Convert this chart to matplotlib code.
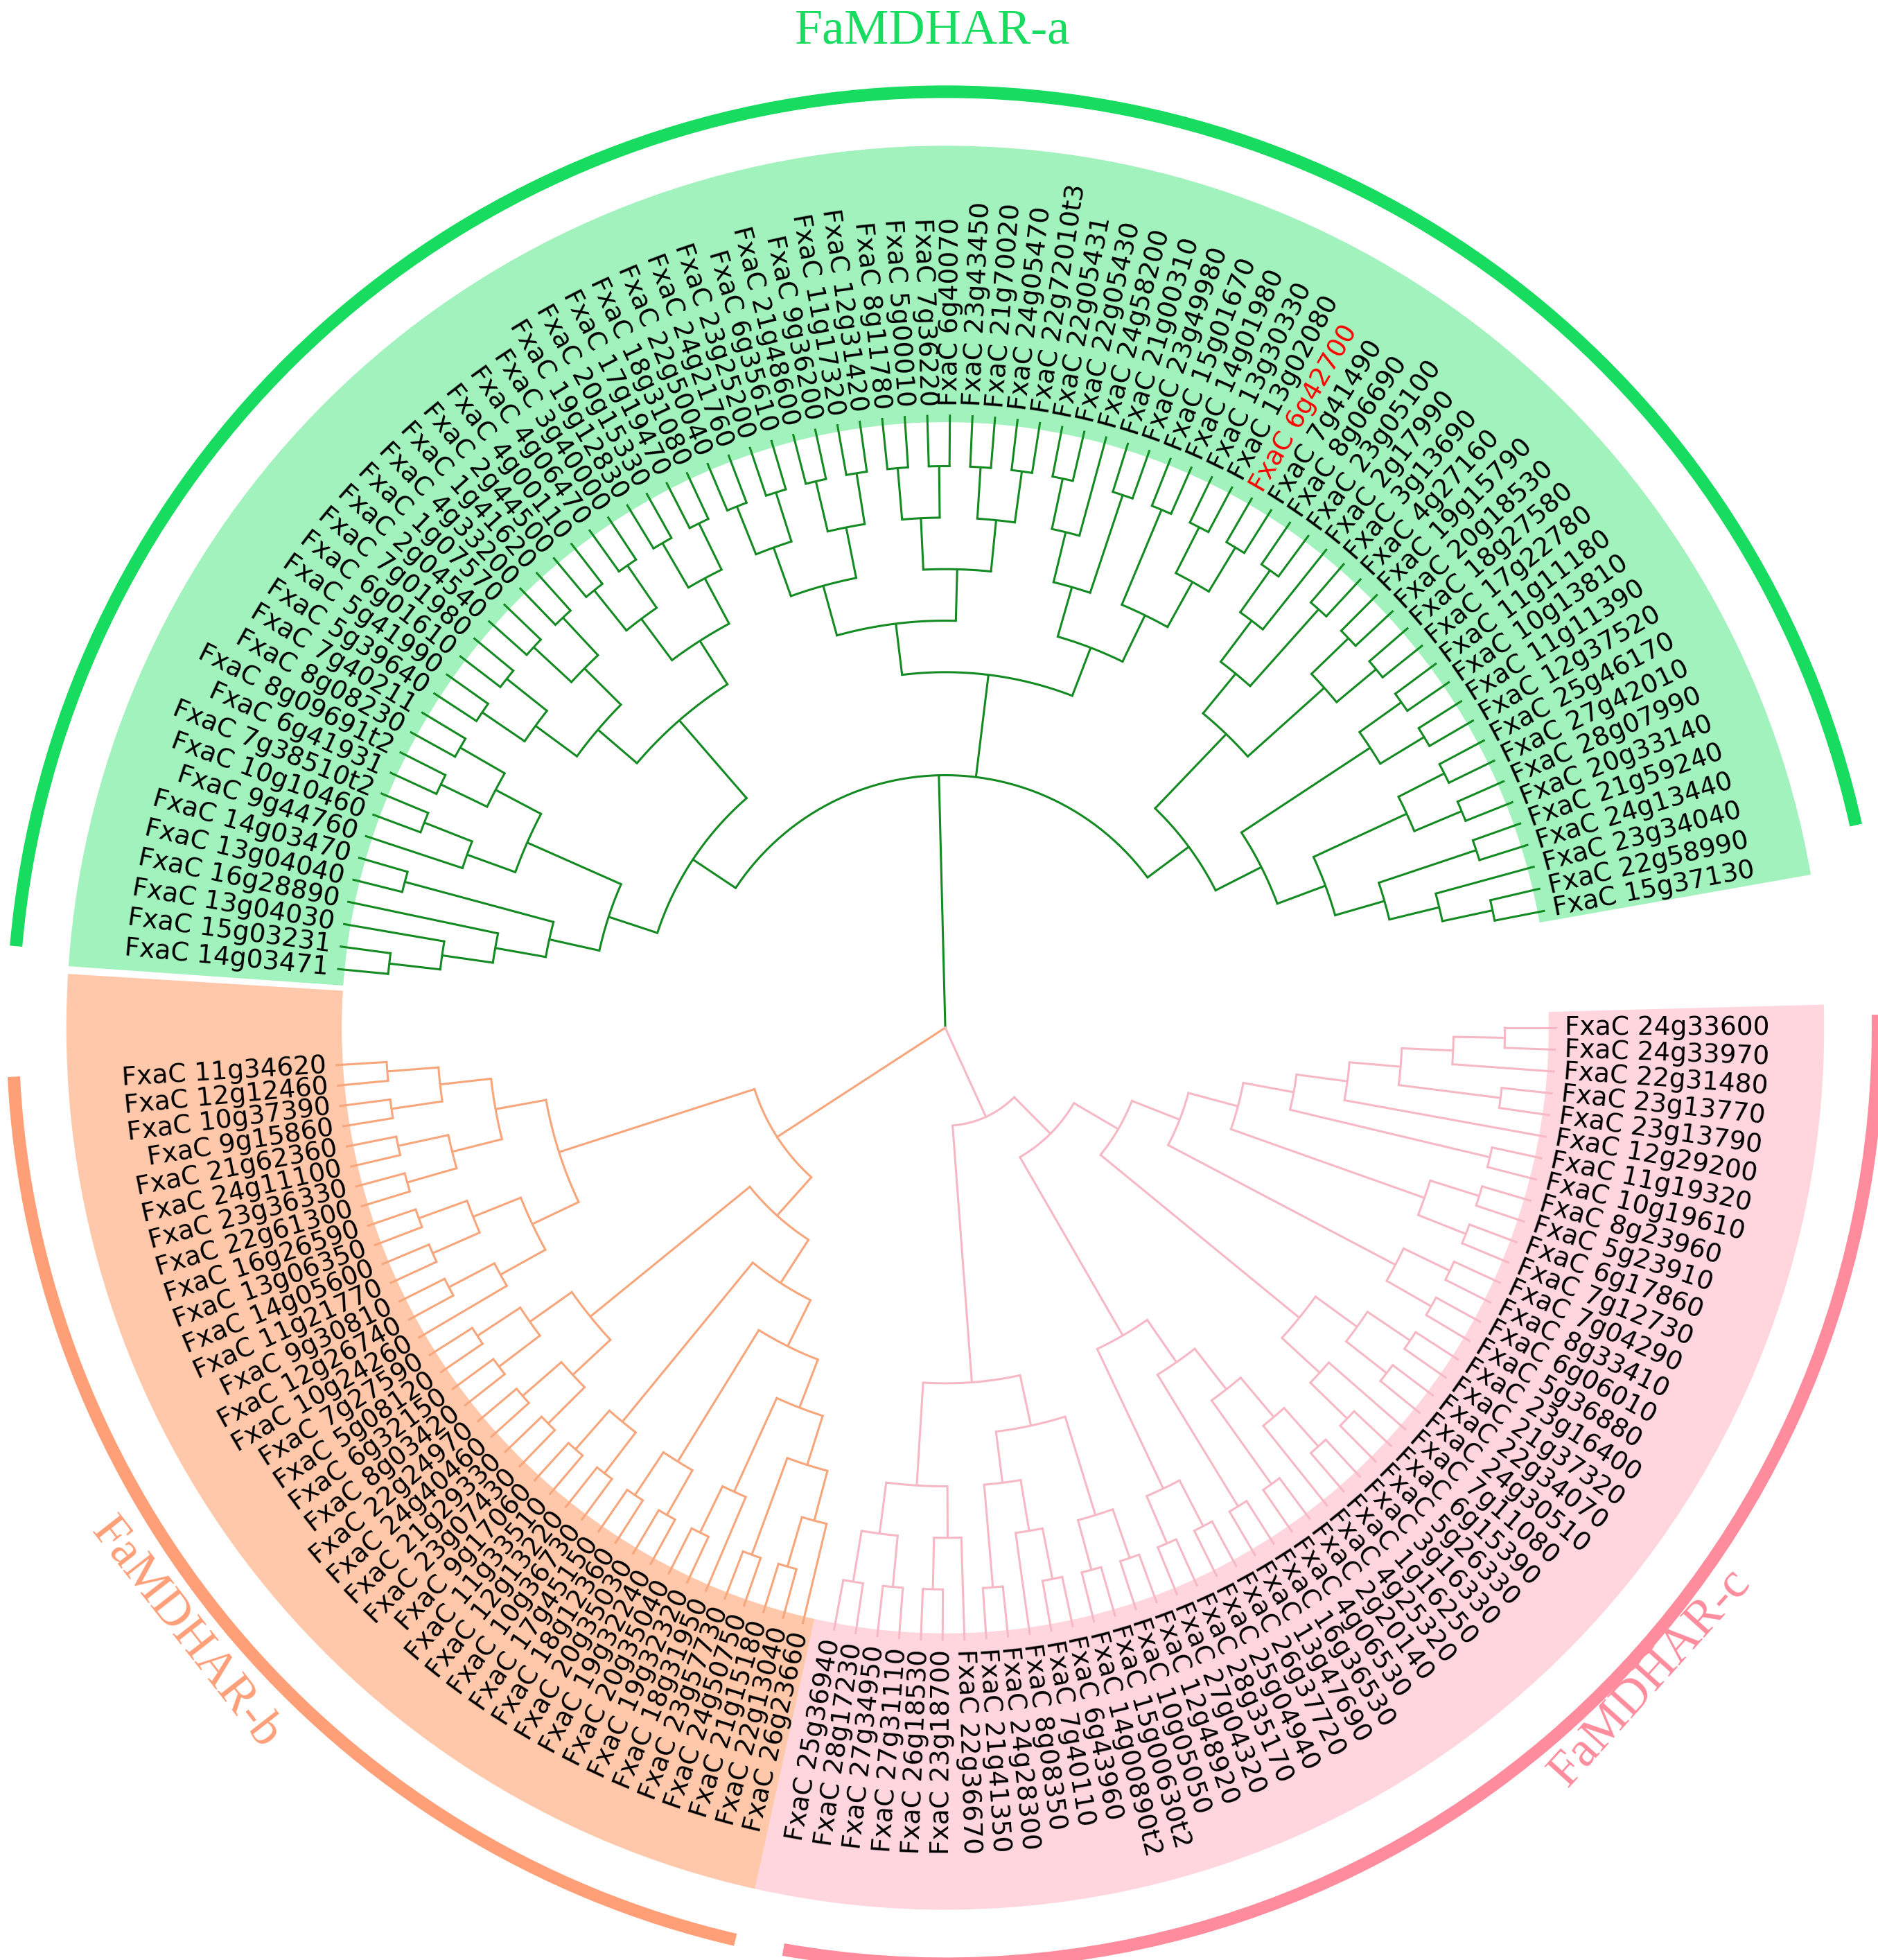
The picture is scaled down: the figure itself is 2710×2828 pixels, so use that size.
import numpy as np
import matplotlib.pyplot as plt
from matplotlib.patches import Wedge, Arc

# tree topology per clade as nested tuples (leaves in counter-clockwise order)
clade_a = (
    (
        ((((('15g37130', '22g58990'), '23g34040'), ('24g13440', '21g59240')),
          (('20g33140', '28g07990'), ('27g42010', '25g46170'))),
         (('12g37520', '11g11390'), ('10g13810', '11g11180'))),
        ((('17g22780', '18g27580'), ('20g18530', '19g15790')),
         (('4g27160', '3g13690'), ('2g17990', ('23g05100', '8g06690')))),
    ),
    (
        (((('7g41490', '6g42700'), ('13g02080', '13g30330')), ('14g01980', '15g01670')),
         (('23g49980', '21g00310'), ('24g58200', ('22g05430', '22g05431')))),
        (((('22g72010t3', '24g05470'), ('21g70020', '23g43450')),
          (('6g40070', '7g36220'), ('5g00010', '8g11780'))),
         ((('12g31420', '11g17320'), ('9g36200', '21g48600')),
          (('6g35610', '23g25200'), ('24g21760', '22g50040')))),
    ),
    (
        (((('18g31080', '17g19470'), ('20g15330', '19g12830')),
          (('3g40000', '4g06470'), ('4g00110', '2g44500'))),
         ((('1g41620', '4g33200'), ('1g07570', '2g04540')),
          (('7g01980', '6g01610'), ('5g41990', '5g39640')))),
        (((('7g40211', '8g08230'), ('8g09691t2', '6g41931')), (('7g38510t2', '10g10460'), '9g44760')),
         (('14g03470', '13g04040'), ('16g28890', ('13g04030', ('15g03231', '14g03471'))))),
    ),
)
clade_b = (
    (
        ((('11g34620', '12g12460'), ('10g37390', '9g15860')),
         (('21g62360', '24g11100'), ('23g36330', '22g61300'))),
        ((('16g26590', '13g06350'), ('14g05600', '11g21770')),
         (('9g30810', '12g26740'), '10g24260')),
    ),
    (
        ((('7g27590', '5g08120'), ('6g32150', '8g03420')),
         (('22g24970', '24g40460'), ('21g29330', '23g07430'))),
        ((('9g17060', '11g33510'), ('12g13220', '10g36730')),
         ((('17g45150', '18g12360'), ('20g35030', '19g32240')),
          ((('20g35040', '19g32320'), '18g31950'),
           (('23g57730', '24g50750'), (('21g15180', '22g13040'), '26g23660'))))),
    ),
)
clade_c = (
    (
        ((('25g36940', '28g17230'), ('27g34950', '27g31110')),
         (('26g18530', '23g18700'), '22g36670')),
        ((('21g41350', '24g28300'), ('8g08350', ('7g40110', '6g43960'))),
         (('14g00890t2', '15g00630t2'), ('10g05050', '12g48920'))),
    ),
    (
        ((('27g04320', '28g35170'), ('25g04940', '26g37720')),
         (('13g47690', '16g36530'), (('4g06530', '2g20140'), ('4g25320', ('1g16250', '3g16330'))))),
        (((('5g26330', '6g15390'), '7g11080'),
          (('24g30510', '22g34070'), ('21g37320', '23g16400'))),
         ((('5g36880', '6g06010'), ('8g33410', '7g04290')),
          ((('7g12730', '6g17860'), ('5g23910', '8g23960')),
           (('10g19610', '11g19320'),
            ('12g29200', (('23g13790', '23g13770'), ('22g31480', ('24g33970', '24g33600')))))))),
    ),
)

clade_names = ['FaMDHAR-a', 'FaMDHAR-b', 'FaMDHAR-c']
clade_span = [(11.0, 174.5), (183.5, 256.5), (259.5, 360.0)]   # leaf angles, degrees
branch_colors = ['#138a22', '#f7a57a', '#f6b8c4']
fill_colors = ['#a2f2bd', '#ffc8aa', '#ffd6de']
arc_colors = ['#17dc5f', '#ff9f78', '#ff8c9c']
fill_span = [(10.0, 176.0), (176.5, 257.5), (257.5, 361.5)]
arc_span = [(12.5, 175.0), (183.0, 257.0), (260.0, 360.8)]
highlight = '6g42700'


def height(n):
    return 0 if isinstance(n, str) else 1 + max(height(k) for k in n)


def leaf_list(n):
    return [n] if isinstance(n, str) else [l for k in n for l in leaf_list(k)]


CX, CY = 755, 818
R_TIP = 488
DR = 41

fig = plt.figure(figsize=(27.1, 28.28), dpi=100)
ax = fig.add_axes([0, 0, 1, 1])
ax.set_xlim(0, 1500)
ax.set_ylim(1560, 0)
ax.axis('off')


def xy(r, a):
    t = np.radians(a)
    return CX + r * np.cos(t), CY - r * np.sin(t)


def draw(n, leaves, col):
    if isinstance(n, str):
        return leaves[n], R_TIP
    r = R_TIP - height(n) * DR
    res = [draw(k, leaves, col) for k in n]
    angs = [a for a, _ in res]
    for a, rc in res:
        x0, y0 = xy(r, a)
        x1, y1 = xy(rc, a)
        ax.plot([x0, x1], [y0, y1], color=col, lw=2.2, solid_capstyle='butt', zorder=3)
    t = np.linspace(min(angs), max(angs), 60)
    px, py = xy(r, t)
    ax.plot(px, py, color=col, lw=2.2, zorder=3)
    return np.mean([min(angs), max(angs)]), r


for i, tr in enumerate((clade_a, clade_b, clade_c)):
    lv = leaf_list(tr)
    a0, a1 = clade_span[i]
    leaves = dict(zip(lv, np.linspace(a0, a1, len(lv))))
    f0, f1 = fill_span[i]
    # y axis is inverted, so patch angles are mirrored
    ax.add_patch(Wedge((CX, CY), 702, -f1, -f0, width=702 - R_TIP + 6,
                       facecolor=fill_colors[i], edgecolor='none', zorder=1))
    a, r = draw(tr, leaves, branch_colors[i])
    x0, y0 = xy(0, a)
    x1, y1 = xy(r, a)
    ax.plot([x0, x1], [y0, y1], color=branch_colors[i], lw=2.2, zorder=3)
    for name, ang in leaves.items():
        lx, ly = xy(R_TIP + 7, ang)
        if 90 < ang < 270:
            rot, ha = ang - 180, 'right'
        else:
            rot, ha = ang, 'left'
        ax.text(lx, ly, 'FxaC ' + name, rotation=rot, ha=ha, va='center',
                rotation_mode='anchor', fontsize=27, family='DejaVu Sans',
                color='red' if name == highlight else 'black', zorder=4)
    s0, s1 = arc_span[i]
    ax.add_patch(Arc((CX, CY), 1490, 1490, theta1=-s1, theta2=-s0,
                     color=arc_colors[i], lw=13, zorder=2))

ax.text(745, 25, clade_names[0], ha='center', va='center', fontsize=52,
        family='Liberation Serif', color=arc_colors[0])
ax.text(148, 1300, clade_names[1], ha='center', va='center', fontsize=52,
        family='Liberation Serif', color=arc_colors[1], rotation=-52)
ax.text(1318, 1335, clade_names[2], ha='center', va='center', fontsize=52,
        family='Liberation Serif', color=arc_colors[2], rotation=48)

fig.savefig('out.png', dpi=100)
